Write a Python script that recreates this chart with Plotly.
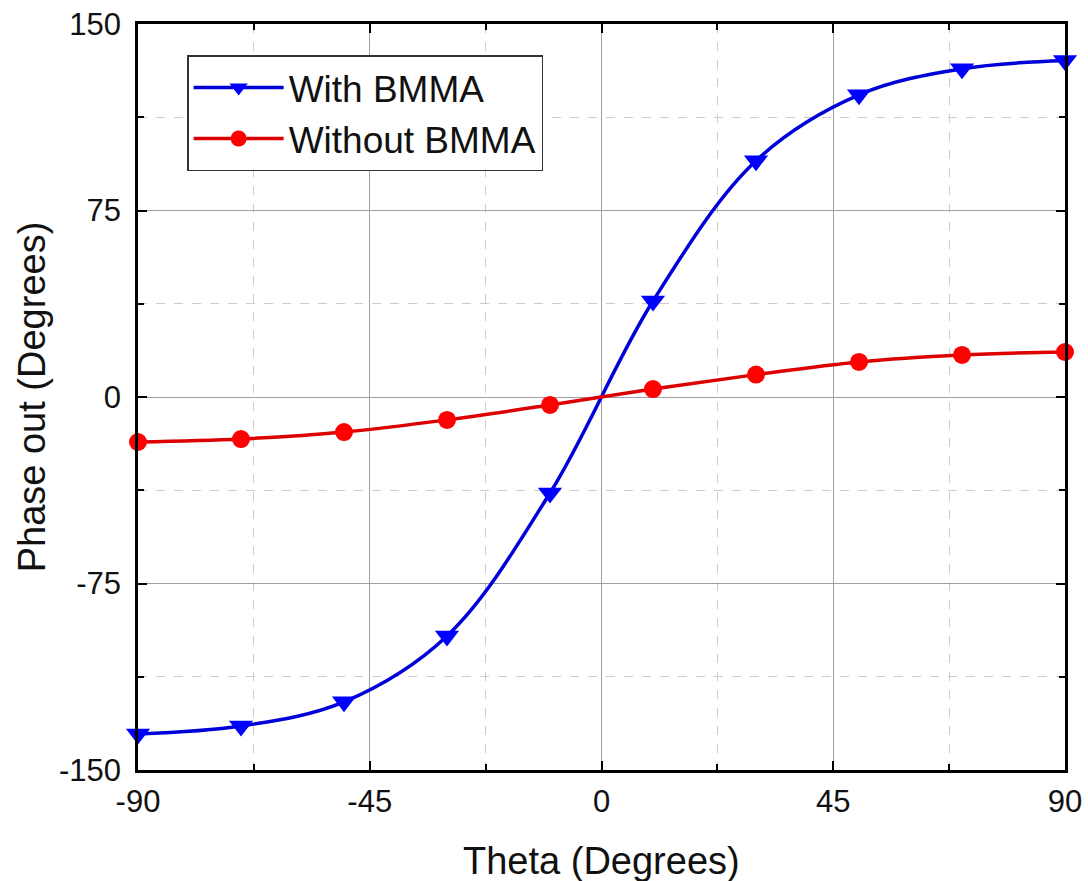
import plotly.graph_objects as go

# Incidence angle (degrees) at the sampled points
theta = [-90, -70, -50, -30, -10, 10, 30, 50, 70, 90]

# Output phase (degrees) for the two configurations
phase_with_bmma = [-135.5, -132.3, -122.6, -96.1, -38.6, 38.6, 95.0, 121.5, 132.0, 135.3]
phase_without_bmma = [-18.1, -16.9, -14.1, -9.2, -3.2, 3.2, 9.0, 14.1, 16.9, 18.1]

series_names = ["With BMMA", "Without BMMA"]

x_ticks = [-90, -45, 0, 45, 90]
y_ticks = [-150, -75, 0, 75, 150]

x_title = "Theta (Degrees)"
y_title = "Phase out (Degrees)"

FONT = "Arial, Liberation Sans, Helvetica, sans-serif"

fig = go.Figure()

fig.add_trace(go.Scatter(
    x=theta, y=phase_with_bmma, name=series_names[0],
    mode="lines+markers",
    line=dict(color="#0000d8", width=3.5, shape="spline", smoothing=1.0),
    marker=dict(symbol="triangle-down", size=21, color="#0000ff"),
    cliponaxis=False,
))

fig.add_trace(go.Scatter(
    x=theta, y=phase_without_bmma, name=series_names[1],
    mode="lines+markers",
    line=dict(color="#dd0000", width=3.5, shape="spline", smoothing=1.0),
    marker=dict(symbol="circle", size=18, color="#ff0000"),
    cliponaxis=False,
))

axis_common = dict(
    showline=True, linecolor="black", linewidth=2.5, mirror="allticks",
    ticks="inside", ticklen=9, tickwidth=2, tickcolor="black",
    showgrid=True, gridcolor="#a0a0a0", gridwidth=1,
    zeroline=False, automargin=False,
    tickfont=dict(family=FONT, size=31, color="#111111"),
    title_font=dict(family=FONT, size=38, color="#111111"),
)

fig.update_xaxes(
    range=[-90, 90], tickmode="array", tickvals=x_ticks,
    ticktext=[str(v) for v in x_ticks],
    minor=dict(ticks="inside", ticklen=6, tickwidth=2, tickcolor="black",
               dtick=22.5, tick0=0,
               showgrid=True, gridcolor="#cccccc", griddash="dash", gridwidth=1),
    ticklabelstandoff=2,
    **axis_common,
)

fig.update_yaxes(
    range=[-150, 150], tickmode="array", tickvals=y_ticks,
    ticktext=[str(v) for v in y_ticks],
    minor=dict(ticks="inside", ticklen=6, tickwidth=2, tickcolor="black",
               dtick=37.5, tick0=0,
               showgrid=True, gridcolor="#cccccc", griddash="dash", gridwidth=1),
    ticklabelstandoff=8,
    **axis_common,
)

# Axis titles placed as paper-anchored text so the plot frame stays fixed
fig.add_annotation(
    text=x_title, xref="paper", yref="paper", x=0.5, y=-0.122,
    xanchor="center", yanchor="middle", showarrow=False,
    font=dict(family=FONT, size=38, color="#111111"),
)
fig.add_annotation(
    text=y_title, xref="paper", yref="paper", x=-0.114, y=0.5,
    xanchor="center", yanchor="middle", showarrow=False, textangle=-90,
    font=dict(family=FONT, size=38, color="#111111"),
)

fig.update_layout(
    width=1088, height=881,
    margin=dict(l=138, r=23, t=24, b=111),
    paper_bgcolor="white", plot_bgcolor="white",
    showlegend=True,
    legend=dict(
        x=0.053, y=0.958, xanchor="left", yanchor="top",
        bgcolor="white", bordercolor="#333333", borderwidth=1.5,
        font=dict(family=FONT, size=37, color="#111111"),
        itemwidth=90, tracegroupgap=0,
    ),
)

fig.write_html("out.html")
